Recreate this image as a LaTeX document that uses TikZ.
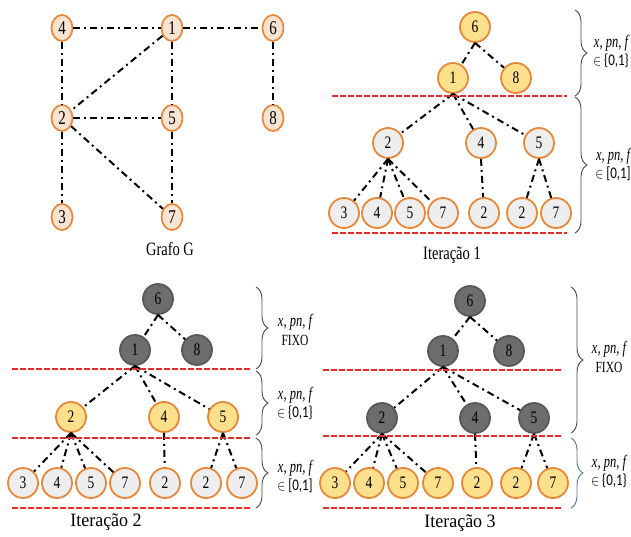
\documentclass[tikz,border=0pt]{standalone}
\usepackage{graphicx}
\usepackage{fontspec}
\setmainfont{Liberation Serif}
\newfontfamily\carlito{Carlito}
\usetikzlibrary{shapes.geometric,decorations.pathreplacing}

\definecolor{ornBorder}{HTML}{E8873A}
\definecolor{peach}{HTML}{F8E4D2}
\definecolor{yel}{HTML}{FCE08C}
\definecolor{lgray}{HTML}{EEEEEE}
\definecolor{dgray}{HTML}{6D6D6D}
\definecolor{dborder}{HTML}{585858}
\definecolor{redline}{HTML}{E82A2A}
\definecolor{bracegray}{HTML}{4A4A4A}
\definecolor{braceblue}{HTML}{5A7896}

% vertically stretched text
\newcommand\vs[1]{\scalebox{1}[1.3]{#1}}
\newcommand\varsx{\scalebox{1}[1.4]{\fontsize{12.5}{12.5}\selectfont\itshape x, pn, f}}
\newcommand\inbin{\scalebox{1}[1.25]{\carlito\fontsize{13}{13}\selectfont $\in$ \{0,1\}}}
\newcommand\inint{\scalebox{1}[1.25]{\carlito\fontsize{13}{13}\selectfont $\in$ [0,1]}}
\newcommand\fixo{\scalebox{1}[1.35]{\fontsize{11.5}{11.5}\selectfont FIXO}}

\begin{document}
\begin{tikzpicture}[x=1pt,y=-1pt,
  gv/.style={ellipse, draw=ornBorder, fill=peach, line width=1.7pt,
    minimum width=21pt, minimum height=26pt, inner sep=0pt,
    font=\fontsize{15}{15}\selectfont},
  tv/.style={circle, line width=1.8pt, minimum size=30pt, inner sep=0pt,
    font=\fontsize{13.5}{13.5}\selectfont},
  yv/.style={tv, draw=ornBorder, fill=yel},
  wv/.style={tv, draw=ornBorder, fill=lgray},
  kv/.style={tv, draw=dborder, fill=dgray},
  link/.style={line width=2pt, dash pattern=on 7pt off 4pt on 2pt off 4pt},
  cut/.style={redline, line width=2.4pt, dash pattern=on 5.5pt off 2.5pt},
  brc/.style={decorate, decoration={brace, amplitude=12pt}, draw=bracegray, line width=0.9pt},
  lab/.style={inner sep=0pt},
  title/.style={inner sep=0pt, font=\fontsize{14.5}{14.5}\selectfont},
  titleb/.style={inner sep=0pt, font=\fontsize{18}{18}\selectfont}
]
\useasboundingbox (0,0) rectangle (631,537);

% ---------------- Grafo G ----------------
\node[gv] (g4) at (62,28) {\vs{4}};
\node[gv] (g1) at (172,28) {\vs{1}};
\node[gv] (g6) at (273,28) {\vs{6}};
\node[gv] (g2) at (62,118) {\vs{2}};
\node[gv] (g5) at (172,118) {\vs{5}};
\node[gv] (g8) at (273,118) {\vs{8}};
\node[gv] (g3) at (62,217) {\vs{3}};
\node[gv] (g7) at (172,217) {\vs{7}};
\draw[link] (g4) -- (g1);
\draw[link] (g1) -- (g6);
\draw[link] (g4) -- (g2);
\draw[link] (g1) -- (g2);
\draw[link] (g1) -- (g5);
\draw[link] (g6) -- (g8);
\draw[link] (g2) -- (g5);
\draw[link] (g2) -- (g3);
\draw[link] (g2) -- (g7);
\draw[link] (g5) -- (g7);
\node[title] (tg) at (170,249) {\vs{Grafo G}};

% ---------------- Iteração 1 ----------------
\node[yv] (a6) at (475,27) {\vs{6}};
\node[yv] (a1) at (453,78) {\vs{1}};
\node[yv] (a8) at (516,78) {\vs{8}};
\node[wv] (a2) at (388,143) {\vs{2}};
\node[wv] (a4) at (481,143) {\vs{4}};
\node[wv] (a5) at (539,143) {\vs{5}};
\node[wv] (a23) at (344,213) {\vs{3}};
\node[wv] (a24) at (377,213) {\vs{4}};
\node[wv] (a25) at (410,213) {\vs{5}};
\node[wv] (a27) at (443,213) {\vs{7}};
\node[wv] (a42) at (484,213) {\vs{2}};
\node[wv] (a52) at (522,213) {\vs{2}};
\node[wv] (a57) at (556,213) {\vs{7}};
\draw[link] (a6.south) -- (a1);
\draw[link] (a6.south) -- (a8);
\draw[link] (a1.south) -- (a2);
\draw[link] (a1.south) -- (a4);
\draw[link] (a1.south) -- (a5);
\foreach \c in {a23,a24,a25,a27} \draw[link] (a2.south) -- (\c);
\draw[link] (a4.south) -- (a42);
\draw[link] (a5.south) -- (a52);
\draw[link] (a5.south) -- (a57);
\coordinate (ac1l) at (332,96);  \coordinate (ac1r) at (567,96);
\coordinate (ac2l) at (332,233); \coordinate (ac2r) at (567,233);
\draw[cut] (ac1l) -- (ac1r);
\draw[cut] (ac2l) -- (ac2r);
\coordinate (ab1t) at (575,10);  \coordinate (ab1b) at (575,96);
\coordinate (ab2t) at (575,97);  \coordinate (ab2b) at (575,233);
\draw[brc] (ab1t) -- (ab1b);
\draw[brc] (ab2t) -- (ab2b);
\node[lab] at (611,43) {\varsx};
\node[lab] at (611,61) {\inbin};
\node[lab] at (613,156) {\varsx};
\node[lab] at (613,174) {\inint};
\node[title] (t1) at (452,255) {\vs{Iteração 1}};

% ---------------- Iteração 2 ----------------
\node[kv] (b6) at (158,299) {\vs{6}};
\node[kv] (b1) at (135,350) {\vs{1}};
\node[kv] (b8) at (197,350) {\vs{8}};
\node[yv] (b2) at (71,417) {\vs{2}};
\node[yv] (b4) at (164,417) {\vs{4}};
\node[yv] (b5) at (223,417) {\vs{5}};
\node[wv] (b23) at (23,483) {\vs{3}};
\node[wv] (b24) at (57,483) {\vs{4}};
\node[wv] (b25) at (91,483) {\vs{5}};
\node[wv] (b27) at (125,483) {\vs{7}};
\node[wv] (b42) at (165,483) {\vs{2}};
\node[wv] (b52) at (206,483) {\vs{2}};
\node[wv] (b57) at (242,483) {\vs{7}};
\draw[link] (b6.south) -- (b1);
\draw[link] (b6.south) -- (b8);
\draw[link] (b1.south) -- (b2);
\draw[link] (b1.south) -- (b4);
\draw[link] (b1.south) -- (b5);
\foreach \c in {b23,b24,b25,b27} \draw[link] (b2.south) -- (\c);
\draw[link] (b4.south) -- (b42);
\draw[link] (b5.south) -- (b52);
\draw[link] (b5.south) -- (b57);
\coordinate (bc1l) at (12,369);  \coordinate (bc1r) at (250,369);
\coordinate (bc2l) at (12,438);  \coordinate (bc2r) at (250,438);
\coordinate (bc3l) at (12,508);  \coordinate (bc3r) at (250,508);
\draw[cut] (bc1l) -- (bc1r);
\draw[cut] (bc2l) -- (bc2r);
\draw[cut] (bc3l) -- (bc3r);
\coordinate (bb1t) at (256,287); \coordinate (bb1b) at (256,369);
\coordinate (bb2t) at (256,371); \coordinate (bb2b) at (256,435);
\coordinate (bb3t) at (256,438); \coordinate (bb3b) at (256,508);
\draw[brc] (bb1t) -- (bb1b);
\draw[brc] (bb2t) -- (bb2b);
\draw[brc] (bb3t) -- (bb3b);
\node[lab] at (295,322) {\varsx};
\node[lab] at (295,340) {\fixo};
\node[lab] at (295,395) {\varsx};
\node[lab] at (295,413) {\inbin};
\node[lab] at (295,468) {\varsx};
\node[lab] at (295,486) {\inint};
\node[titleb] (t2) at (106,522) {\scalebox{1}[1.05]{Iteração 2}};

% ---------------- Iteração 3 ----------------
\node[kv] (c6) at (470,301) {\vs{6}};
\node[kv] (c1) at (443,351) {\vs{1}};
\node[kv] (c8) at (509,351) {\vs{8}};
\node[kv] (c2) at (382,418) {\vs{2}};
\node[kv] (c4) at (475,418) {\vs{4}};
\node[kv] (c5) at (534,418) {\vs{5}};
\node[yv] (c23) at (335,483) {\vs{3}};
\node[yv] (c24) at (369,483) {\vs{4}};
\node[yv] (c25) at (403,483) {\vs{5}};
\node[yv] (c27) at (438,483) {\vs{7}};
\node[yv] (c42) at (477,483) {\vs{2}};
\node[yv] (c52) at (516,483) {\vs{2}};
\node[yv] (c57) at (553,483) {\vs{7}};
\draw[link] (c6.south) -- (c1);
\draw[link] (c6.south) -- (c8);
\draw[link] (c1.south) -- (c2);
\draw[link] (c1.south) -- (c4);
\draw[link] (c1.south) -- (c5);
\foreach \c in {c23,c24,c25,c27} \draw[link] (c2.south) -- (\c);
\draw[link] (c4.south) -- (c42);
\draw[link] (c5.south) -- (c52);
\draw[link] (c5.south) -- (c57);
\coordinate (cc1l) at (323,370);  \coordinate (cc1r) at (562,370);
\coordinate (cc2l) at (323,436);  \coordinate (cc2r) at (562,436);
\coordinate (cc3l) at (323,508);  \coordinate (cc3r) at (562,508);
\draw[cut] (cc1l) -- (cc1r);
\draw[cut] (cc2l) -- (cc2r);
\draw[cut] (cc3l) -- (cc3r);
\coordinate (cb1t) at (571,287); \coordinate (cb1b) at (571,433);
\coordinate (cb2t) at (571,438); \coordinate (cb2b) at (571,508);
\draw[brc] (cb1t) -- (cb1b);
\draw[brc, draw=braceblue] (cb2t) -- (cb2b);
\node[lab] at (609,349) {\varsx};
\node[lab] at (609,367) {\fixo};
\node[lab] at (609,463) {\varsx};
\node[lab] at (609,481) {\inbin};
\node[titleb] (t3) at (460,523) {\scalebox{1}[1.05]{Iteração 3}};
\end{tikzpicture}
\end{document}
